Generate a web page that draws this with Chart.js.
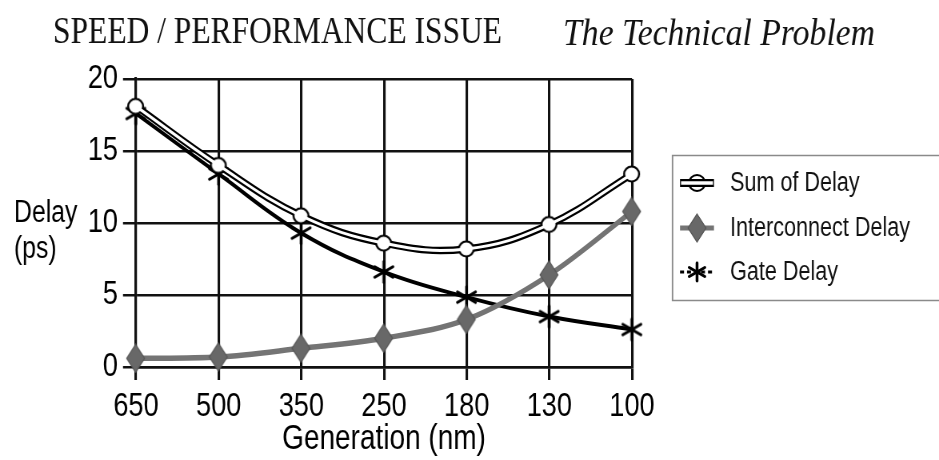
<!DOCTYPE html>
<html>
<head>
<meta charset="utf-8">
<script src="https://cdn.jsdelivr.net/npm/chart.js@4/dist/chart.umd.min.js"></script>
<style>
  html, body { margin: 0; padding: 0; background: #ffffff; overflow: hidden; }
  #frame { width: 939px; height: 460px; overflow: hidden; position: relative; }
  /* the drawing surface is wider than the frame and squeezed horizontally,
     which gives the condensed lettering of the figure */
  #wrap { position: absolute; left: 0; top: 0; transform-origin: 0 0; }
</style>
</head>
<body>
<div id="frame"><div id="wrap"><canvas id="chart"></canvas></div></div>
<script>
// Technology generations (nm) and delay components (ps)
const categories = ['650', '500', '350', '250', '180', '130', '100'];
const gateDelay = [17.6, 13.4, 9.3, 6.6, 4.85, 3.5, 2.6];
const interconnectDelay = [0.6, 0.7, 1.3, 2.0, 3.3, 6.4, 10.8];
const sumDelay = [18.1, 14.0, 10.5, 8.6, 8.2, 9.9, 13.4];
const yTicks = [0, 5, 10, 15, 20];

const seriesNames = ['Sum of Delay', 'Interconnect Delay', 'Gate Delay'];
const titleLeft = 'SPEED / PERFORMANCE ISSUE';
const titleRight = 'The Technical Problem';
const yTitleLines = ['Delay', '(ps)'];
const xTitle = 'Generation (nm)';

const SANS = "'Liberation Sans', Arial, sans-serif";
const SERIF = "'Liberation Serif', 'Times New Roman', serif";
const GREY_LINE = '#747474';
const GREY_FILL = '#686868';

// horizontal squeeze factor between canvas units and screen pixels
const VIEW_W = 939, VIEW_H = 460;
const CANVAS_W = 1174;
const K = VIEW_W / CANVAS_W;
const sx = function (px) { return px / K; };   // screen px -> canvas units (horizontal)

const canvas = document.getElementById('chart');
canvas.width = CANVAS_W;
canvas.height = VIEW_H;
canvas.style.width = CANVAS_W + 'px';
canvas.style.height = VIEW_H + 'px';
document.getElementById('wrap').style.transform = 'scaleX(' + K + ')';

// Marker images (pre-stretched so they look right once squeezed)
function markerCanvas(w, h, paint) {
  const c = document.createElement('canvas');
  c.width = Math.ceil(sx(w)); c.height = h;
  const g = c.getContext('2d');
  g.scale(1 / K, 1);
  paint(g, w, h);
  return c;
}
function paintDiamond(g, cx, cy, w, h) {
  g.beginPath();
  g.moveTo(cx, cy - h / 2);
  g.lineTo(cx + w / 2, cy);
  g.lineTo(cx, cy + h / 2);
  g.lineTo(cx - w / 2, cy);
  g.closePath();
  g.fillStyle = GREY_FILL;
  g.fill();
  g.lineWidth = 1;
  g.strokeStyle = '#555555';
  g.stroke();
}
function paintAsterisk(g, cx, cy, r, lw) {
  g.save();
  g.strokeStyle = '#000000';
  g.lineWidth = lw;
  g.lineCap = 'round';
  [90, 30, 150].forEach(function (deg) {
    const a = deg * Math.PI / 180;
    g.beginPath();
    g.moveTo(cx - r * Math.cos(a), cy - r * Math.sin(a));
    g.lineTo(cx + r * Math.cos(a), cy + r * Math.sin(a));
    g.stroke();
  });
  g.restore();
}
function paintRing(g, cx, cy, r) {
  g.beginPath();
  g.arc(cx, cy, r, 0, Math.PI * 2);
  g.fillStyle = '#ffffff';
  g.fill();
  g.lineWidth = 2;
  g.strokeStyle = '#000000';
  g.stroke();
}
const diamondImg = markerCanvas(20, 30, function (g, w, h) { paintDiamond(g, w / 2, h / 2, 18, 28); });
const starImg = markerCanvas(26, 26, function (g, w, h) { paintAsterisk(g, w / 2, h / 2, 10.5, 2.7); });
const ringImg = markerCanvas(20, 20, function (g, w, h) { paintRing(g, w / 2, h / 2, 7.5); });

// Titles, vertical axis caption and legend box
const decorations = {
  id: 'decorations',
  afterDraw(chart) {
    const g = chart.ctx;
    const rows = [183, 228, 272];
    g.save();
    // serif headings, laid out in screen pixels
    g.save();
    g.scale(1 / K, 1);
    g.fillStyle = '#111111';
    g.textBaseline = 'alphabetic';
    g.textAlign = 'left';
    g.font = '38px ' + SERIF;
    g.fillText(titleLeft, 53, 43, 449);
    g.font = 'italic 38px ' + SERIF;
    g.fillText(titleRight, 563, 45, 312);

    // legend frame and glyphs
    g.strokeStyle = '#8a8a8a';
    g.lineWidth = 1.5;
    g.strokeRect(672.5, 155.5, 300, 145);
    const x0 = 680, x1 = 714, cx = 697;
    paintRing(g, cx, rows[0], 8);
    g.lineWidth = 8;
    g.strokeStyle = '#000000';
    g.beginPath(); g.moveTo(x0, rows[0]); g.lineTo(x1, rows[0]); g.stroke();
    g.lineWidth = 3.5;
    g.strokeStyle = '#ffffff';
    g.beginPath(); g.moveTo(x0 + 1, rows[0]); g.lineTo(x1 - 1, rows[0]); g.stroke();
    g.lineWidth = 5;
    g.strokeStyle = GREY_LINE;
    g.beginPath(); g.moveTo(x0, rows[1]); g.lineTo(x1, rows[1]); g.stroke();
    paintDiamond(g, cx, rows[1], 18, 28);
    g.lineWidth = 3;
    g.strokeStyle = '#000000';
    g.setLineDash([4, 3]);
    g.beginPath(); g.moveTo(x0, rows[2]); g.lineTo(x1, rows[2]); g.stroke();
    g.setLineDash([]);
    paintAsterisk(g, cx, rows[2], 9, 2.8);
    g.restore();

    // condensed sans captions
    g.fillStyle = '#000000';
    g.textAlign = 'left';
    g.textBaseline = 'middle';
    g.font = '31px ' + SANS;
    g.fillText(yTitleLines[0], sx(14), 213);
    g.fillText(yTitleLines[1], sx(14), 249);
    g.font = '27px ' + SANS;
    g.fillStyle = '#111111';
    seriesNames.forEach(function (name, i) {
      g.fillText(name, sx(730), rows[i] + 1);
    });
    g.restore();
  }
};

new Chart(canvas, {
  type: 'line',
  data: {
    labels: categories,
    datasets: [
      {
        label: seriesNames[0],
        data: sumDelay,
        borderColor: '#ffffff',
        borderWidth: 3,
        tension: 0.4,
        pointRadius: 0,
        clip: false,
        order: 0
      },
      {
        label: seriesNames[0] + ' outline',
        data: sumDelay,
        borderColor: '#000000',
        borderWidth: 7.5,
        tension: 0.4,
        pointStyle: ringImg,
        clip: false,
        order: 1
      },
      {
        label: seriesNames[1],
        data: interconnectDelay,
        borderColor: GREY_LINE,
        borderWidth: 5.5,
        cubicInterpolationMode: 'monotone',
        pointStyle: diamondImg,
        clip: false,
        order: 2
      },
      {
        label: seriesNames[2],
        data: gateDelay,
        borderColor: '#000000',
        borderWidth: 4,
        tension: 0.4,
        pointStyle: starImg,
        clip: false,
        order: 3
      }
    ]
  },
  options: {
    responsive: false,
    maintainAspectRatio: false,
    devicePixelRatio: 1,
    animation: false,
    events: [],
    layout: { padding: { left: 0, top: 79, right: CANVAS_W - sx(632), bottom: 0 } },
    plugins: {
      legend: { display: false },
      tooltip: { enabled: false },
      title: { display: false }
    },
    scales: {
      x: {
        type: 'category',
        offset: false,
        afterFit(scale) { scale.height = 93; },
        grid: { color: '#111111', lineWidth: 2.5 / K, tickLength: 13, drawTicks: true },
        border: { color: '#111111', width: 2.5 },
        ticks: {
          color: '#000000',
          font: { family: SANS, size: 34 },
          padding: 6,
          maxRotation: 0,
          autoSkip: false
        },
        title: {
          display: true,
          text: xTitle,
          color: '#000000',
          font: { family: SANS, size: 35 },
          padding: { top: 0, bottom: 0 }
        }
      },
      y: {
        min: 0,
        max: 20,
        afterFit(scale) { scale.width = sx(136); },
        afterBuildTicks(scale) { scale.ticks = yTicks.map(function (v) { return { value: v }; }); },
        grid: { color: '#111111', lineWidth: 2.5, tickLength: sx(13), drawTicks: true },
        border: { color: '#111111', width: 2.5 / K },
        ticks: {
          color: '#000000',
          font: { family: SANS, size: 34 },
          padding: sx(5)
        }
      }
    }
  },
  plugins: [decorations]
});
</script>
</body>
</html>
